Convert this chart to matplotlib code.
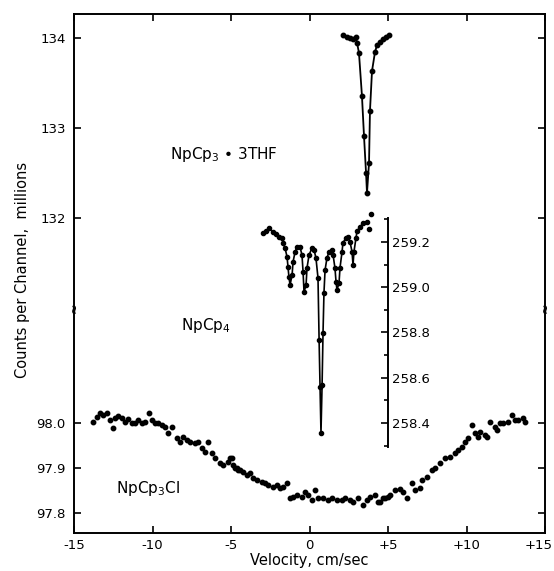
import numpy as np
import matplotlib.pyplot as plt
from matplotlib.transforms import ScaledTranslation

# NpCp3 . 3THF (top spectrum, millions of counts)
thfVel = [2.13, 2.39, 2.58, 2.77, 2.96, 3.03, 3.15, 3.34, 3.47, 3.60, 3.66,
          3.79, 3.85, 3.98, 4.17, 4.30, 4.49, 4.68, 4.87, 5.06]
thfCounts = [134.033, 134.011, 134.0, 133.989, 134.011, 133.944, 133.833, 133.356,
             132.911, 132.5, 132.278, 132.611, 133.189, 133.633, 133.844, 133.922,
             133.956, 133.989, 134.011, 134.033]

# NpCp4 (inner spectrum, own scale)
cp4Vel = [-2.96, -2.77, -2.58, -2.32, -2.13, -1.94, -1.75, -1.69, -1.56, -1.43,
          -1.37, -1.31, -1.24, -1.11, -1.05, -0.92, -0.80, -0.61, -0.48, -0.41,
          -0.35, -0.22, -0.16, -0.03, 0.16, 0.29, 0.41, 0.54, 0.61, 0.67, 0.73,
          0.80, 0.86, 0.92, 0.99, 1.11, 1.24, 1.43, 1.50, 1.62, 1.69, 1.75, 1.88,
          1.94, 2.07, 2.13, 2.32, 2.45, 2.58, 2.71, 2.77, 2.83, 2.96, 3.03, 3.22,
          3.41, 3.66, 3.79, 3.92]
cp4Counts = [259.240, 259.249, 259.262, 259.244, 259.235, 259.222, 259.218, 259.196,
             259.173, 259.134, 259.089, 259.045, 259.010, 259.054, 259.112, 259.156,
             259.178, 259.178, 259.143, 259.067, 258.979, 259.010, 259.085, 259.143,
             259.173, 259.165, 259.129, 259.041, 258.767, 258.559, 258.356, 258.568,
             258.798, 258.975, 259.076, 259.129, 259.156, 259.165, 259.143, 259.085,
             259.023, 258.988, 259.019, 259.085, 259.156, 259.196, 259.218, 259.222,
             259.200, 259.156, 259.098, 259.156, 259.218, 259.249, 259.266, 259.284,
             259.288, 259.257, 259.324]

# NpCp3Cl (bottom spectrum)
clVel = [-13.79, -13.54, -13.34, -13.15, -12.90, -12.70, -12.50, -12.40, -12.20, -11.94,
         -11.75, -11.56, -11.31, -11.11, -10.92, -10.67, -10.48, -10.22, -10.03, -9.84,
         -9.65, -9.39, -9.20, -9.01, -8.76, -8.44, -8.25, -8.06, -7.80, -7.61,
         -7.29, -7.10, -6.85, -6.66, -6.46, -6.21, -6.02, -5.70, -5.51, -5.19,
         -5.06, -4.94, -4.87, -4.75, -4.62, -4.55, -4.43, -4.24, -3.98, -3.79,
         -3.60, -3.34, -3.03, -2.83, -2.64, -2.32, -2.07, -1.88, -1.69, -1.43,
         -1.24, -1.05, -0.80, -0.48, -0.29, -0.10, 0.16, 0.35, 0.54, 0.86,
         1.18, 1.43, 1.75, 2.07, 2.26, 2.58, 2.77, 3.09, 3.41, 3.66,
         3.85, 4.17, 4.36, 4.49, 4.68, 4.81, 5.00, 5.13, 5.45, 5.76,
         5.96, 6.21, 6.53, 6.72, 7.04, 7.17, 7.48, 7.80, 7.99, 8.31,
         8.63, 8.95, 9.27, 9.46, 9.71, 9.90, 10.10, 10.35, 10.54, 10.73,
         10.86, 11.18, 11.31, 11.50, 11.82, 11.94, 12.13, 12.33, 12.64, 12.90,
         13.09, 13.28, 13.60, 13.73]
clCounts = [98.002, 98.013, 98.022, 98.018, 98.022, 98.007, 97.989, 98.011, 98.016, 98.011,
            98.002, 98.009, 98.000, 98.000, 98.007, 98.000, 98.002, 98.022, 98.007, 98.000,
            98.000, 97.996, 97.991, 97.978, 97.991, 97.967, 97.958, 97.969, 97.962, 97.958,
            97.956, 97.958, 97.944, 97.936, 97.958, 97.933, 97.922, 97.911, 97.907, 97.913,
            97.922, 97.922, 97.907, 97.900, 97.900, 97.896, 97.896, 97.891, 97.884, 97.889,
            97.878, 97.873, 97.869, 97.867, 97.862, 97.858, 97.862, 97.856, 97.858, 97.867,
            97.833, 97.836, 97.840, 97.836, 97.847, 97.840, 97.829, 97.851, 97.833, 97.833,
            97.829, 97.833, 97.829, 97.829, 97.833, 97.829, 97.824, 97.833, 97.818, 97.829,
            97.836, 97.840, 97.824, 97.824, 97.833, 97.833, 97.836, 97.840, 97.851, 97.853,
            97.847, 97.833, 97.867, 97.851, 97.856, 97.873, 97.880, 97.896, 97.900, 97.911,
            97.922, 97.924, 97.933, 97.940, 97.947, 97.958, 97.967, 97.996, 97.978, 97.969,
            97.980, 97.973, 97.969, 98.002, 97.991, 97.984, 98.000, 98.000, 98.002, 98.018,
            98.007, 98.007, 98.011, 98.002]

xTicks = [-15, -10, -5, 0, 5, 10, 15]
xTickLabels = ['-15', '-10', '-5', '0', '+5', '+10', '+15']

plt.rcParams['font.family'] = 'DejaVu Sans'
fig = plt.figure(figsize=(5.54, 5.71), dpi=100)
rect = [0.1336, 0.0657, 0.8502, 0.9098]

#%% bottom spectrum / main frame
ax = fig.add_axes(rect)
ax.plot(clVel, clCounts, 'o', color='black', ms=3.2)
ax.set_xlim(-15, 15)
ax.set_ylim(97.7544, 98.9089)
ax.set_xticks(xTicks)
ax.set_xticklabels(xTickLabels)
ax.set_yticks([97.8, 97.9, 98.0])
ax.set_yticklabels(['97.8', '97.9', '98.0'])
ax.tick_params(direction='in', top=True, right=True, length=5, width=1.2,
               labelsize=9.5, pad=6)
ax.tick_params(axis='x', pad=4)
# last label sits against the image edge, as in the original
lastLbl = ax.get_xticklabels()[-1]
lastLbl.set_horizontalalignment('right')
lastLbl.set_transform(lastLbl.get_transform() + ScaledTranslation(0.08, 0, fig.dpi_scale_trans))
for sp in ax.spines.values():
    sp.set_linewidth(1.4)
ax.set_xlabel('Velocity, cm/sec', fontsize=10.5, labelpad=1)
ax.set_ylabel('Counts per Channel,  millions', fontsize=10.5)
ax.yaxis.set_label_coords(-0.093, 0.507)
ax.text(-12.3, 97.855, 'NpCp$_3$Cl', fontsize=11, va='center')

#%% top spectrum
axTop = fig.add_axes(rect, frameon=False)
axTop.plot(thfVel, thfCounts, '-', color='black', lw=1.3)
axTop.plot(thfVel, thfCounts, 'o', color='black', ms=3.2)
axTop.set_xlim(-15, 15)
axTop.set_ylim(128.494, 134.267)
axTop.xaxis.set_visible(False)
axTop.set_yticks([132, 133, 134])
axTop.tick_params(direction='in', right=True, length=5, width=1.2,
                  labelsize=9.5, pad=6)
axTop.patch.set_visible(False)
axTop.text(-8.9, 132.7, 'NpCp$_3$ \u2022 3THF', fontsize=11, va='center')

#%% NpCp4 with its own scale
axIn = fig.add_axes(rect, frameon=True)
axIn.patch.set_visible(False)
for side in ['left', 'top', 'bottom']:
    axIn.spines[side].set_visible(False)
axIn.spines['right'].set_position(('data', 5))
axIn.spines['right'].set_linewidth(1.4)
axIn.spines['right'].set_bounds(258.294, 259.306)
axIn.plot(cp4Vel[:-2], cp4Counts[:-2], '-', color='black', lw=1.2)
axIn.plot(cp4Vel, cp4Counts, 'o', color='black', ms=3.0)
axIn.set_xlim(-15, 15)
axIn.set_ylim(257.9116, 260.2077)
axIn.xaxis.set_visible(False)
axIn.yaxis.tick_right()
axIn.set_yticks([258.4, 258.6, 258.8, 259.0, 259.2])
axIn.set_yticks([258.3, 258.5, 258.7, 258.9, 259.1, 259.3], minor=True)
axIn.set_yticklabels(['258.4', '258.6', '258.8', '259.0', '259.2'])
axIn.tick_params(axis='y', which='major', direction='in', length=5, width=1.2,
                 labelsize=9.5, pad=3)
axIn.tick_params(axis='y', which='minor', direction='in', length=3, width=1.2)
axIn.text(-8.2, 258.833, 'NpCp$_4$', fontsize=11, va='center')

# axis break marks
for xb in [-15, 15]:
    fig.text(rect[0] + (xb + 15) / 30 * rect[2], 1 - 308 / 571, '\u2248',
             rotation=90, ha='center', va='center', fontsize=9)

fig.savefig('out.png', dpi=100)
